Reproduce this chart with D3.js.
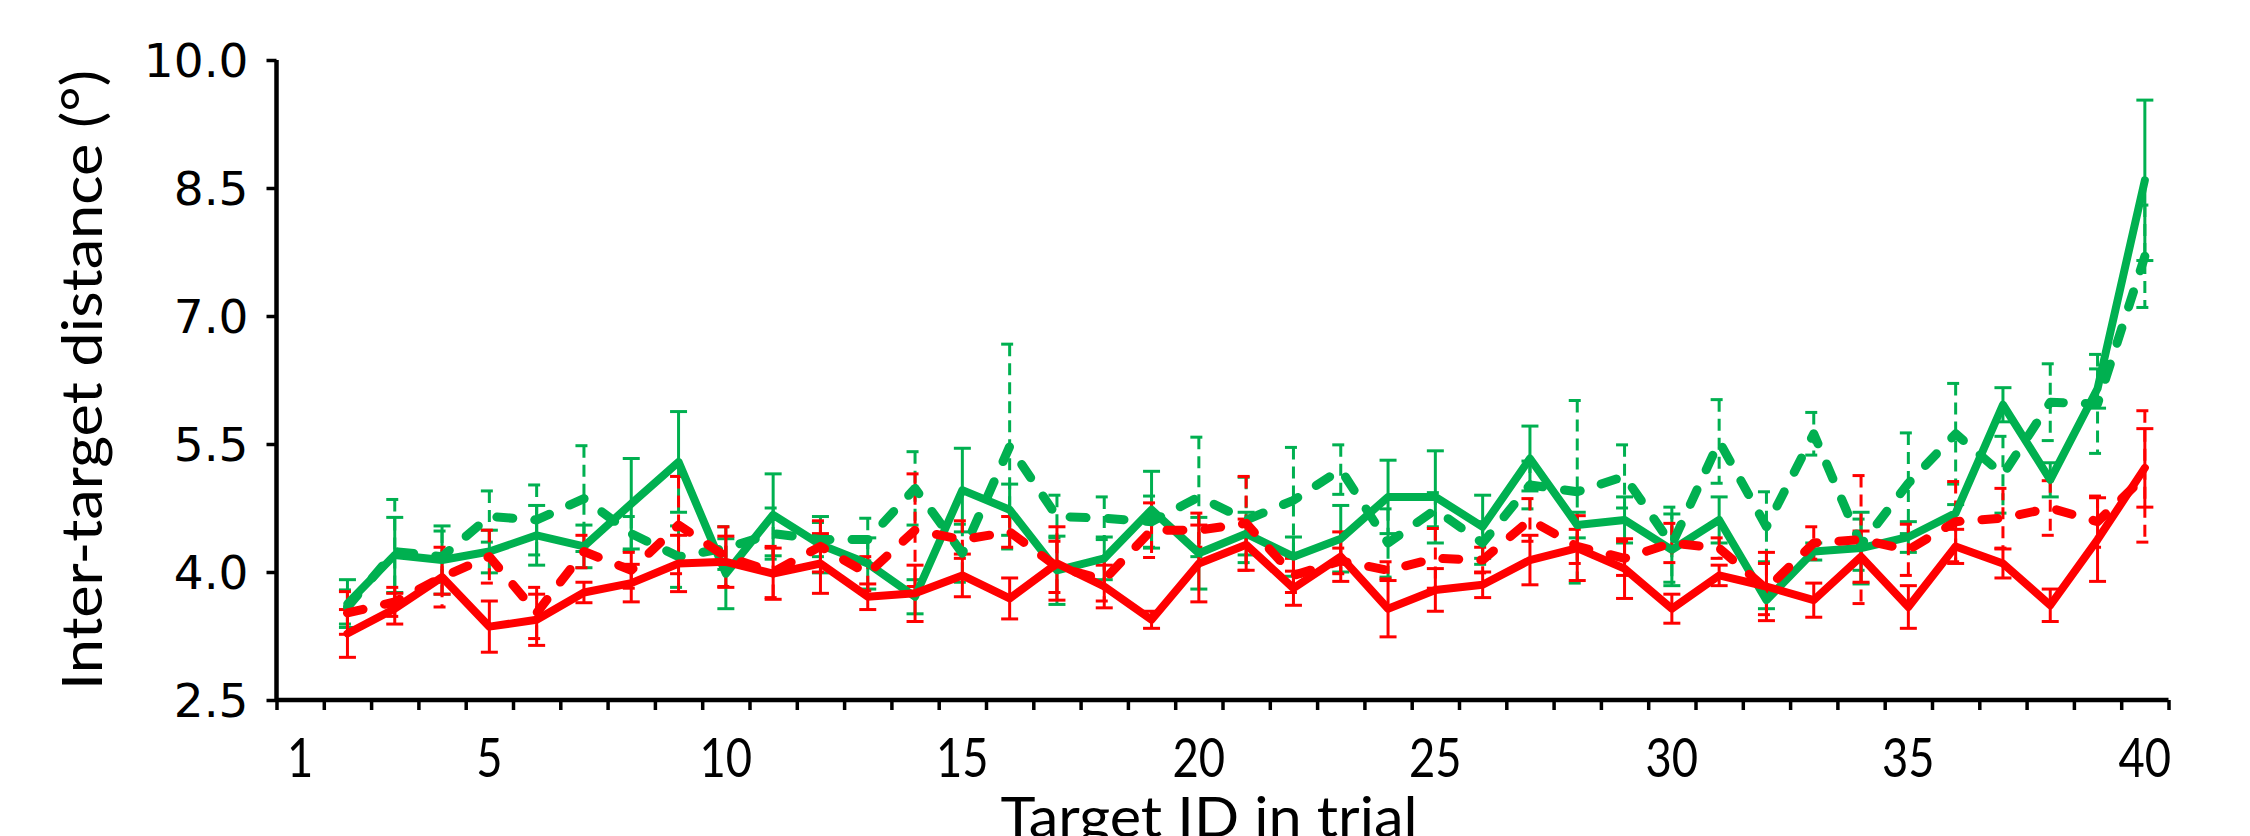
<!DOCTYPE html>
<html><head><meta charset="utf-8">
<script src="https://cdn.jsdelivr.net/npm/d3@7"></script>
<style>html,body{margin:0;padding:0;background:#fff;overflow:hidden} svg{display:block}</style>
</head><body><svg id="c" width="2250" height="836"></svg>
<script>
// ---- data ----
const trials = d3.range(2, 41);            // Target IDs that carry data (2..40)
const xTickLabels = [1, 5, 10, 15, 20, 25, 30, 35, 40];
const yTickValues = [2.5, 4.0, 5.5, 7.0, 8.5, 10.0];

const greenSolid = [3.63,4.20,4.14,4.24,4.43,4.30,4.80,5.29,3.98,4.67,4.32,4.10,3.71,4.96,4.73,4.02,4.16,4.73,4.22,4.45,
                    4.18,4.39,4.88,4.88,4.53,5.33,4.55,4.61,4.26,4.61,3.67,4.24,4.28,4.41,4.69,5.96,5.08,6.15,8.59];
const greenSolidErr = [0.28,0.44,0.40,0.25,0.35,0.25,0.53,0.59,0.41,0.48,0.33,0.30,0.20,0.49,0.30,0.40,0.25,0.45,0.42,0.25,
                    0.23,0.39,0.43,0.54,0.37,0.38,0.15,0.27,0.42,0.27,0.10,0.10,0.42,0.18,0.10,0.20,0.20,0.23,0.94];

const greenDashed = [3.59,4.24,4.18,4.65,4.61,4.86,4.45,4.18,4.28,4.45,4.38,4.38,4.98,4.22,5.47,4.65,4.63,4.59,4.88,4.61,
                    4.84,5.20,4.34,4.73,4.34,5.02,4.94,5.12,4.32,5.53,4.53,5.62,4.32,5.04,5.62,5.14,5.99,5.97,7.70];
const greenDashedErr = [0.20,0.61,0.30,0.30,0.41,0.62,0.20,0.36,0.25,0.30,0.20,0.25,0.43,0.34,1.20,0.25,0.25,0.30,0.70,0.50,
                    0.62,0.29,0.40,0.20,0.25,0.28,1.07,0.37,0.44,0.49,0.41,0.25,0.30,0.59,0.59,0.45,0.45,0.58,0.60];

const redSolid = [3.28,3.57,3.94,3.36,3.44,3.76,3.87,4.10,4.12,3.98,4.10,3.71,3.75,3.96,3.69,4.10,3.83,3.44,4.10,4.32,
                    3.81,4.18,3.57,3.79,3.85,4.14,4.28,4.04,3.57,3.96,3.83,3.67,4.18,3.59,4.30,4.10,3.61,4.38,5.22];
const redSolidErr = [0.28,0.18,0.20,0.30,0.30,0.12,0.22,0.33,0.30,0.30,0.35,0.15,0.33,0.25,0.24,0.43,0.25,0.10,0.45,0.30,
                    0.20,0.29,0.33,0.25,0.15,0.29,0.38,0.35,0.17,0.12,0.40,0.20,0.30,0.25,0.20,0.17,0.19,0.49,0.46];

const redDashed = [3.52,3.65,3.94,4.18,3.52,4.24,4.02,4.55,4.18,4.00,4.30,3.98,4.49,4.38,4.47,4.06,3.91,4.49,4.49,4.57,
                    3.96,4.13,4.02,4.16,4.14,4.61,4.30,4.16,4.34,4.28,3.80,4.34,4.38,4.26,4.59,4.63,4.75,4.59,5.12];
const redDashedErr = [0.25,0.17,0.35,0.31,0.30,0.19,0.21,0.57,0.35,0.30,0.30,0.20,0.66,0.22,0.18,0.30,0.25,0.32,0.20,0.55,
                    0.20,0.15,0.10,0.35,0.15,0.25,0.20,0.20,0.23,0.12,0.30,0.19,0.75,0.30,0.47,0.35,0.32,0.30,0.77];

const GREEN = "#00B050", RED = "#FF0000";
const series = [
  {vals: greenDashed, errs: greenDashedErr, color: GREEN, dashed: true},
  {vals: greenSolid,  errs: greenSolidErr,  color: GREEN, dashed: false},
  {vals: redDashed,   errs: redDashedErr,   color: RED,   dashed: true},
  {vals: redSolid,    errs: redSolidErr,    color: RED,   dashed: false}
];

// ---- scales ----
const plotL = 276.5, plotR = 2168.5, plotT = 60, plotB = 700;
const x = d3.scaleLinear().domain([0.5, 40.5]).range([plotL, plotR]);
const y = d3.scaleLinear().domain([2.5, 10]).range([plotB, plotT]);

const svg = d3.select("#c");

// ---- error bars ----
const capHalf = 8.5;
series.forEach(s => {
  const g = svg.append("g")
    .attr("stroke", s.color).attr("stroke-width", 3).attr("fill", "none")
    .attr("stroke-dasharray", s.dashed ? "12,7" : null);
  trials.forEach((t, i) => {
    const cx = x(t), hi = y(s.vals[i] + s.errs[i]), lo = y(s.vals[i] - s.errs[i]);
    g.append("line").attr("x1", cx).attr("x2", cx).attr("y1", hi).attr("y2", lo);
    g.append("line").attr("x1", cx - capHalf).attr("x2", cx + capHalf).attr("y1", hi).attr("y2", hi);
    g.append("line").attr("x1", cx - capHalf).attr("x2", cx + capHalf).attr("y1", lo).attr("y2", lo);
  });
});

// ---- lines ----
const line = d3.line().x((d, i) => x(trials[i])).y(d => y(d));
series.forEach(s => {
  svg.append("path").datum(s.vals)
    .attr("d", line)
    .attr("fill", "none")
    .attr("stroke", s.color)
    .attr("stroke-width", s.dashed ? 9 : 8)
    .attr("stroke-linejoin", "round")
    .attr("stroke-linecap", "round")
    .attr("stroke-dasharray", s.dashed ? "16,22" : null);
});

// ---- axes ----
const yAxis = d3.axisLeft(y).tickValues(yTickValues).tickFormat(d3.format(".1f")).tickSize(10).tickPadding(18);
const gy = svg.append("g").attr("transform", `translate(${plotL},0)`).call(yAxis);
gy.select(".domain").attr("stroke", "#000").attr("stroke-width", 4.5).attr("d", `M0,${plotT}V${plotB}`);
gy.selectAll(".tick line").attr("stroke", "#000").attr("stroke-width", 3.5);
gy.selectAll(".tick text").attr("font-family", "'DejaVu Sans', sans-serif").attr("font-size", 47).attr("fill", "#000").attr("dy", "0.36em");

const boundaries = d3.range(0, 41).map(d => d + 0.5);
const xAxis = d3.axisBottom(x).tickValues(boundaries).tickFormat("").tickSize(10);
const gx = svg.append("g").attr("transform", `translate(0,${plotB})`).call(xAxis);
gx.select(".domain").attr("stroke", "#000").attr("stroke-width", 4.5).attr("d", `M${plotL},0H${plotR}`);
gx.selectAll(".tick line").attr("stroke", "#000").attr("stroke-width", 3.5);

svg.append("g").selectAll("text").data(xTickLabels).join("text")
  .attr("transform", d => `translate(${x(d)},777) scale(0.84,1)`)
  .attr("text-anchor", "middle")
  .attr("font-family", "Lato, sans-serif").attr("font-size", 54).attr("fill", "#000")
  .text(d => d);

// ---- titles ----
svg.append("text")
  .attr("transform", "translate(102,380) rotate(-90)")
  .attr("text-anchor", "middle")
  .attr("font-family", "Lato, sans-serif").attr("font-size", 56).attr("fill", "#000")
  .attr("textLength", 620).attr("lengthAdjust", "spacingAndGlyphs")
  .text("Inter-target distance (°)");

svg.append("text")
  .attr("x", 1209).attr("y", 837)
  .attr("text-anchor", "middle")
  .attr("font-family", "Lato, sans-serif").attr("font-size", 56).attr("fill", "#000")
  .attr("textLength", 417).attr("lengthAdjust", "spacingAndGlyphs")
  .text("Target ID in trial");
</script>
</body></html>
